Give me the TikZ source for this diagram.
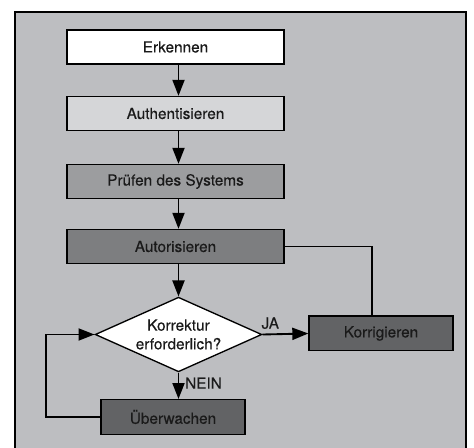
\documentclass[tikz,border=0pt]{standalone}
\usepackage{fontspec}
\setmainfont{TeX Gyre Heros}[FakeBold=0.3]
\usepackage{tikz}
\usetikzlibrary{calc, positioning, arrows.meta, shapes.geometric}

\definecolor{panelgray}{HTML}{BDBEC1}
\definecolor{boxlight}{HTML}{D5D6D8}
\definecolor{boxmid}{HTML}{9C9D9F}
\definecolor{boxdark}{HTML}{7D7E80}
\definecolor{boxdeep}{HTML}{626365}
\definecolor{textdark}{HTML}{1A1A1A}

\begin{document}
\begin{tikzpicture}[x=0.75pt, y=-0.75pt, >={Triangle[length=12pt, width=9pt]}, line width=1.4pt,
		box/.style={draw, line width=1pt, minimum width=162.75pt, minimum height=25.5pt, inner sep=0pt, font=\fontsize{11.5}{14}\selectfont, text=textdark},
		smallbox/.style={box, minimum width=108pt, minimum height=26pt}]
		\useasboundingbox (0,0) rectangle (474,448);
		\draw[line width=1.6pt, fill=panelgray] (15,12) rectangle (466,460);

		\node[box, fill=white] (erk) at (175.5,47) {Erkennen};
		\node[box, fill=boxlight] (auth) at (175.5,113.5) {Authentisieren};
		\node[box, fill=boxmid] (pruef) at (175.5,181.5) {Prüfen des Systems};
		\node[box, fill=boxdark] (autor) at (175.5,246.5) {Autorisieren};
		\node[draw, diamond, fill=white, line width=1pt, aspect=2.2, inner sep=0pt, minimum width=125pt, minimum height=56pt, align=center, font=\fontsize{11.5}{14}\selectfont, text=textdark] (dec) at (178.5,334.5) {Korrektur\\erforderlich?};
		\node[smallbox, fill=boxdeep] (korr) at (381,333.5) {Korrigieren};
		\node[smallbox, fill=boxdeep] (ueber) at (173,417) {Überwachen};
		\coordinate (loop) at (46,417);
		\coordinate (back) at (372,246.5);

		\draw[->] (erk.south -| dec) -- (auth.north -| dec);
		\draw[->] (auth.south -| dec) -- (pruef.north -| dec);
		\draw[->] (pruef.south -| dec) -- (autor.north -| dec);
		\draw[->] (autor.south -| dec) -- (dec.north);

		\draw[->]
		(dec.east) --
		node[pos=0.17, above, font=\fontsize{11.5}{14}\selectfont, text=textdark] {JA}
		(korr.west);

		\draw[->]
		(dec.south) --
		node[pos=0.4, right, xshift=1pt, font=\fontsize{11.5}{14}\selectfont, text=textdark] {NEIN}
		(ueber.north -| dec);

		\draw (autor.east) -- (back) -- (back |- korr.north);
		\draw[->] (ueber.west) -- (loop) |- (dec.west);

	\end{tikzpicture}
\end{document}
